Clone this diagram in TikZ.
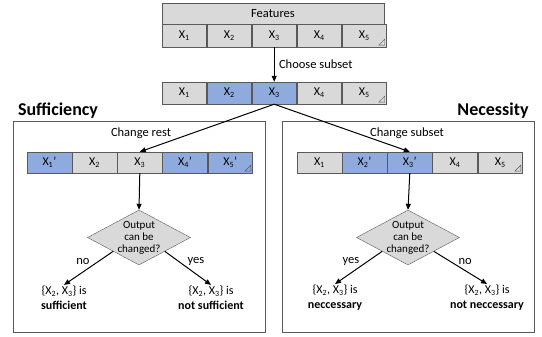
\documentclass[tikz,border=0pt]{standalone}
\usepackage{fontspec}
\setmainfont{Carlito}
\usetikzlibrary{shapes.geometric, arrows.meta, positioning}
\definecolor{cellgray}{HTML}{D9D9D9}
\definecolor{cellblue}{HTML}{8FAADC}
\definecolor{edgegray}{HTML}{595959}

\tikzset{
  cell/.style={draw=edgegray, fill=cellgray, minimum width=44.6pt, minimum height=22pt, inner sep=0pt, font=\fontsize{12}{14}\selectfont},
  sel/.style={cell, fill=cellblue},
  frame/.style={draw=edgegray, line width=0.9pt, minimum width=252pt, minimum height=211pt},
  flow/.style={-{Triangle[length=6pt,width=5pt]}, line width=1pt},
  decision/.style={diamond, draw=edgegray, fill=cellgray, minimum width=103pt, minimum height=55pt, inner sep=0pt},
  qtext/.style={align=center, font=\fontsize{11}{12}\selectfont},
  outcome/.style={align=center, font=\fontsize{12}{15}\selectfont, inner sep=1pt},
  lbl/.style={font=\fontsize{12.5}{14}\selectfont},
  heading/.style={font=\fontsize{18}{20}\selectfont\bfseries},
}
\newcommand{\gripmark}[1]{\draw[edgegray, line width=0.4pt] (#1.south east) ++(-8,-2) -- ++(6,-6) -- ++(0,6) -- cycle;}
\newcommand{\xs}[1]{X\textsubscript{#1}}

\begin{document}
\begin{tikzpicture}[x=1pt, y=-1pt, node distance=0pt]
        \useasboundingbox (0,0) rectangle (542,337);

        % Features
        \node[cell, minimum width=222pt, minimum height=21pt, font=\fontsize{12.5}{14}\selectfont] (feat) at (273,13.5) {Features};
        \node[cell, minimum height=23pt] (t1) at (184.2,35.5) {\xs{1}};
        \node[cell, minimum height=23pt, right=of t1] (t2) {\xs{2}};
        \node[cell, minimum height=23pt, right=of t2] (t3) {\xs{3}};
        \node[cell, minimum height=23pt, right=of t3] (t4) {\xs{4}};
        \node[cell, minimum height=23pt, right=of t4] (t5) {\xs{5}};
        \gripmark{t5}

        % Subset
        \node[cell] (s1) at (184.2,93) {\xs{1}};
        \node[sel, right=of s1] (s2) {\xs{2}};
        \node[sel, right=of s2] (s3) {\xs{3}};
        \node[cell, right=of s3] (s4) {\xs{4}};
        \node[cell, right=of s4] (s5) {\xs{5}};
        \gripmark{s5}
        \draw[flow] (t3.south) -- node[right, lbl, xshift=1pt] {Choose subset} (s3.north);

        % Sufficiency
        \node[heading] (suf) at (58,111) {Sufficiency};
        \node[frame] (sufbox) at (139,226.5) {};
        \node[lbl] (rest) at (141,133) {Change rest};
        \node[sel, minimum width=44.8pt, minimum height=21pt] (a1) at (49.4,162.5) {\xs{1}'};
        \node[cell, minimum width=44.8pt, minimum height=21pt, right=of a1] (a2) {\xs{2}};
        \node[cell, minimum width=44.8pt, minimum height=21pt, right=of a2] (a3) {\xs{3}};
        \node[sel, minimum width=44.8pt, minimum height=21pt, right=of a3] (a4) {\xs{4}'};
        \node[sel, minimum width=44.8pt, minimum height=21pt, right=of a4] (a5) {\xs{5}'};
        \gripmark{a5}
        \node[decision, label={[qtext]center:Output\\can be\\changed?}] (qa) at (139,237.5) {};
        \node[outcome] (sa) at (64,298) {\{\xs{2}, \xs{3}\} is\\\textbf{sufficient}};
        \node[outcome] (na) at (211,298) {\{\xs{2}, \xs{3}\} is\\\textbf{not sufficient}};
        \draw[flow] (s3.south) -- (a3.north);
        \draw[flow] (a3.south) -- (qa.north);
        \draw[flow] (qa.south west) -- node[pos=0.3, left=5pt, lbl] {no} (sa.north);
        \draw[flow] (qa.south east) -- node[pos=0.3, right=5pt, lbl] {yes} (na.north);

        % Necessity
        \node[heading] (nec) at (493,111) {Necessity};
        \node[frame] (necbox) at (408,226.5) {};
        \node[lbl] (subs) at (407,133) {Change subset};
        \node[cell, minimum width=44.8pt, minimum height=21pt] (b1) at (319.4,162.5) {\xs{1}};
        \node[sel, minimum width=44.8pt, minimum height=21pt, right=of b1] (b2) {\xs{2}'};
        \node[sel, minimum width=44.8pt, minimum height=21pt, right=of b2] (b3) {\xs{3}'};
        \node[cell, minimum width=44.8pt, minimum height=21pt, right=of b3] (b4) {\xs{4}};
        \node[cell, minimum width=44.8pt, minimum height=21pt, right=of b4] (b5) {\xs{5}};
        \gripmark{b5}
        \node[decision, label={[qtext]center:Output\\can be\\changed?}] (qb) at (408,237.5) {};
        \node[outcome] (sb) at (335,298) {\{\xs{2}, \xs{3}\} is\\\textbf{neccessary}};
        \node[outcome] (nb) at (487,298) {\{\xs{2}, \xs{3}\} is\\\textbf{not neccessary}};
        \draw[flow] (s3.south) -- (b3.north);
        \draw[flow] (b3.south) -- (qb.north);
        \draw[flow] (qb.south west) -- node[pos=0.3, left=5pt, lbl] {yes} (sb.north);
        \draw[flow] (qb.south east) -- node[pos=0.3, right=5pt, lbl] {no} (nb.north);
    \end{tikzpicture}
\end{document}
